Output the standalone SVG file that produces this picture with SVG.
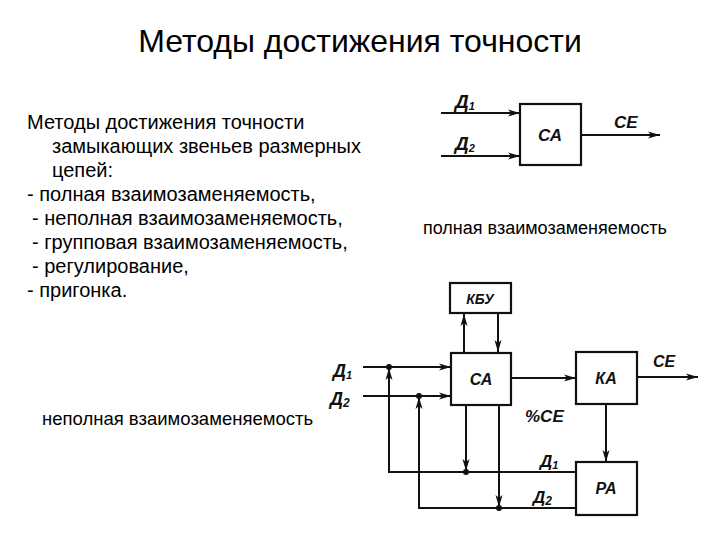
<svg xmlns="http://www.w3.org/2000/svg" width="720" height="540" viewBox="0 0 720 540">
<style>
.t{font-family:"Liberation Sans",Arial,sans-serif;fill:#000}
.lbl{font-family:"Liberation Sans",Arial,sans-serif;font-style:italic;font-weight:bold;fill:#111}
.box{fill:#fff;stroke:#111;stroke-width:2.2}
.ln{fill:none;stroke:#111;stroke-width:2}
</style>
<defs>
<marker id="ar" viewBox="0 0 12 8" refX="12" refY="4" markerWidth="12" markerHeight="8" markerUnits="userSpaceOnUse" orient="auto">
<path d="M0,0.5 L12,4 L0,7.5 L3,4 Z" fill="#111"/>
</marker>
</defs>
<rect width="720" height="540" fill="#fff"/>
<text class="t" x="360" y="52" font-size="32" text-anchor="middle">Методы достижения точности</text>
<g id="left-text" class="t" font-size="20">
<text x="27" y="129">Методы достижения точности</text>
<text x="52" y="153">замыкающих звеньев размерных</text>
<text x="52" y="177">цепей:</text>
<text x="27" y="201">- полная взаимозаменяемость,</text>
<text x="32" y="225">- неполная взаимозаменяемость,</text>
<text x="32" y="249">- групповая взаимозаменяемость,</text>
<text x="32" y="273">- регулирование,</text>
<text x="27" y="297">- пригонка.</text>
</g>
<text class="t" x="423" y="234" font-size="18">полная взаимозаменяемость</text>
<text class="t" x="42" y="425" font-size="18.5">неполная взаимозаменяемость</text>
<!-- top diagram -->
<g id="top-CA"><rect class="box" x="520" y="104" width="61" height="61"/><text class="lbl" x="550" y="141" font-size="17" text-anchor="middle">СА</text></g>
<g id="top-labels">
<text class="lbl" x="455" y="108" font-size="19">Д<tspan font-size="11" dy="2">1</tspan></text>
<text class="lbl" x="455" y="150" font-size="19">Д<tspan font-size="11" dy="2">2</tspan></text>
<text class="lbl" x="614" y="128" font-size="17">СЕ</text>
</g>
<g id="top-connectors">
<line class="ln" x1="441" y1="113" x2="520" y2="113" marker-end="url(#ar)"/>
<line class="ln" x1="441" y1="156" x2="520" y2="156" stroke-width="2.5" marker-end="url(#ar)"/>
<line class="ln" x1="581" y1="135" x2="660" y2="135" stroke-width="2.5" marker-end="url(#ar)"/>
</g>
<!-- bottom diagram -->
<g id="KBU"><rect class="box" x="450" y="283" width="61" height="30"/><text class="lbl" x="480" y="304" font-size="14" text-anchor="middle">КБУ</text></g>
<g id="CA"><rect class="box" x="451" y="353" width="60" height="52"/><text class="lbl" x="481" y="385" font-size="16" text-anchor="middle">СА</text></g>
<g id="KA"><rect class="box" x="576" y="352" width="61" height="52"/><text class="lbl" x="606" y="384" font-size="16" text-anchor="middle">КА</text></g>
<g id="PA"><rect class="box" x="576" y="462" width="61" height="53"/><text class="lbl" x="606" y="494" font-size="16" text-anchor="middle">РА</text></g>
<g id="connectors">
<line class="ln" x1="363" y1="367" x2="389" y2="367" stroke-width="3.5"/>
<line class="ln" x1="389" y1="367" x2="451" y2="367" marker-end="url(#ar)"/>
<line class="ln" x1="363" y1="396" x2="451" y2="396" marker-end="url(#ar)"/>
<polyline class="ln" points="576,472 389,472 389,368" marker-end="url(#ar)"/>
<polyline class="ln" points="576,508 419,508 419,397" marker-end="url(#ar)"/>
<line class="ln" x1="466" y1="405" x2="466" y2="471" marker-end="url(#ar)"/>
<line class="ln" x1="499" y1="405" x2="499" y2="507" marker-end="url(#ar)"/>
<line class="ln" x1="464" y1="353" x2="464" y2="314" marker-end="url(#ar)"/>
<line class="ln" x1="498" y1="313" x2="498" y2="352" marker-end="url(#ar)"/>
<line class="ln" x1="511" y1="378" x2="576" y2="378" marker-end="url(#ar)"/>
<line class="ln" x1="637" y1="377" x2="698" y2="377" marker-end="url(#ar)"/>
<line class="ln" x1="606" y1="404" x2="606" y2="462" marker-end="url(#ar)"/>
<circle cx="389" cy="367" r="3" fill="#111"/>
<circle cx="419" cy="396" r="3" fill="#111"/>
<circle cx="466" cy="472" r="3" fill="#111"/>
<circle cx="499" cy="508" r="3" fill="#111"/>
</g>
<g id="bottom-labels">
<text class="lbl" x="333" y="377" font-size="18">Д<tspan font-size="11" dy="2">1</tspan></text>
<text class="lbl" x="330" y="405" font-size="18">Д<tspan font-size="12" dy="2">2</tspan></text>
<text class="lbl" x="653" y="367" font-size="16">СЕ</text>
<text class="lbl" x="525" y="422" font-size="17">%СЕ</text>
<text class="lbl" x="540" y="467" font-size="17">Д<tspan font-size="11" dy="2">1</tspan></text>
<text class="lbl" x="533" y="503" font-size="17">Д<tspan font-size="12" dy="2">2</tspan></text>
</g>
</svg>
